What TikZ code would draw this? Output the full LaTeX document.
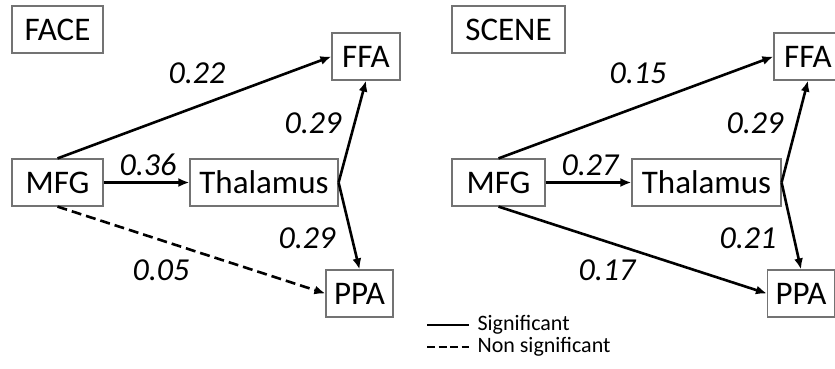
\documentclass[tikz,border=0pt]{standalone}
\usepackage{fontspec}
\setmainfont{Carlito}
\usetikzlibrary{arrows.meta}
\begin{document}
\begin{tikzpicture}[
                x = 1pt, y = -1pt,
                area/.style = {draw = black!55, line width = 1.2pt, minimum height = 47pt,
                               inner sep = 0pt, font = \fontsize{33}{38}\selectfont},
                path/.style = {line width = 2.6pt, -{Latex[length=11pt,width=9pt]}},
                weight/.style = {font = \fontsize{32}{37}\selectfont\itshape},
                legend/.style = {font = \fontsize{22}{26}\selectfont, anchor = west}
                ]
                \clip (0,0) rectangle (835,368);
                % FACE
                \node[area, minimum width = 91pt] (face) at (57.5, 29.5) {FACE};
                \node[area, minimum width = 91pt] (mfgF) at (57.5, 182.5) {MFG};
                \node[area, minimum width = 148pt] (thalF) at (264, 182.5) {Thalamus};
                \node[area, minimum width = 68pt] (ffaF) at (366, 56.5) {FFA};
                \node[area, minimum width = 67pt] (ppaF) at (359.5, 293.5) {PPA};
                \draw[path] (mfgF.north) -- (ffaF.west);
                \draw[path] (mfgF.east) -- (thalF.west);
                \draw[path, dash pattern = on 10pt off 5pt] (mfgF.south) -- (ppaF.west);
                \draw[path] (thalF.east) -- (ffaF.south);
                \draw[path] (thalF.east) -- (ppaF.north);
                \node[weight] (wF1) at (197, 73) {0.22};
                \node[weight] (wF2) at (148, 165) {0.36};
                \node[weight] (wF3) at (161, 270) {0.05};
                \node[weight] (wF4) at (313, 123) {0.29};
                \node[weight] (wF5) at (307, 238) {0.29};
                % SCENE
                \node[area, minimum width = 113pt] (scene) at (508.5, 29.5) {SCENE};
                \node[area, minimum width = 93pt] (mfgS) at (498.5, 182.5) {MFG};
                \node[area, minimum width = 149pt] (thalS) at (706.5, 182.5) {Thalamus};
                \node[area, minimum width = 68pt] (ffaS) at (808, 56.5) {FFA};
                \node[area, minimum width = 67pt] (ppaS) at (801, 293.5) {PPA};
                \draw[path] (mfgS.north) -- (ffaS.west);
                \draw[path] (mfgS.east) -- (thalS.west);
                \draw[path] (mfgS.south) -- (ppaS.west);
                \draw[path] (thalS.east) -- (ffaS.south);
                \draw[path] (thalS.east) -- (ppaS.north);
                \node[weight] (wS1) at (638, 73) {0.15};
                \node[weight] (wS2) at (590, 165) {0.27};
                \node[weight] (wS3) at (607, 270) {0.17};
                \node[weight] (wS4) at (755, 123) {0.29};
                \node[weight] (wS5) at (748, 238) {0.21};
                % legend
                \coordinate (sigA) at (427, 325);
                \coordinate (sigB) at (469, 325);
                \coordinate (nonA) at (427, 347);
                \coordinate (nonB) at (469, 347);
                \draw[line width = 2.6pt] (sigA) -- (sigB);
                \draw[line width = 2.6pt, dash pattern = on 8pt off 3.5pt] (nonA) -- (nonB);
                \node[legend] (sig) at (474, 325) {Significant};
                \node[legend] (non) at (474, 347) {Non significant};
            \end{tikzpicture}
\end{document}
